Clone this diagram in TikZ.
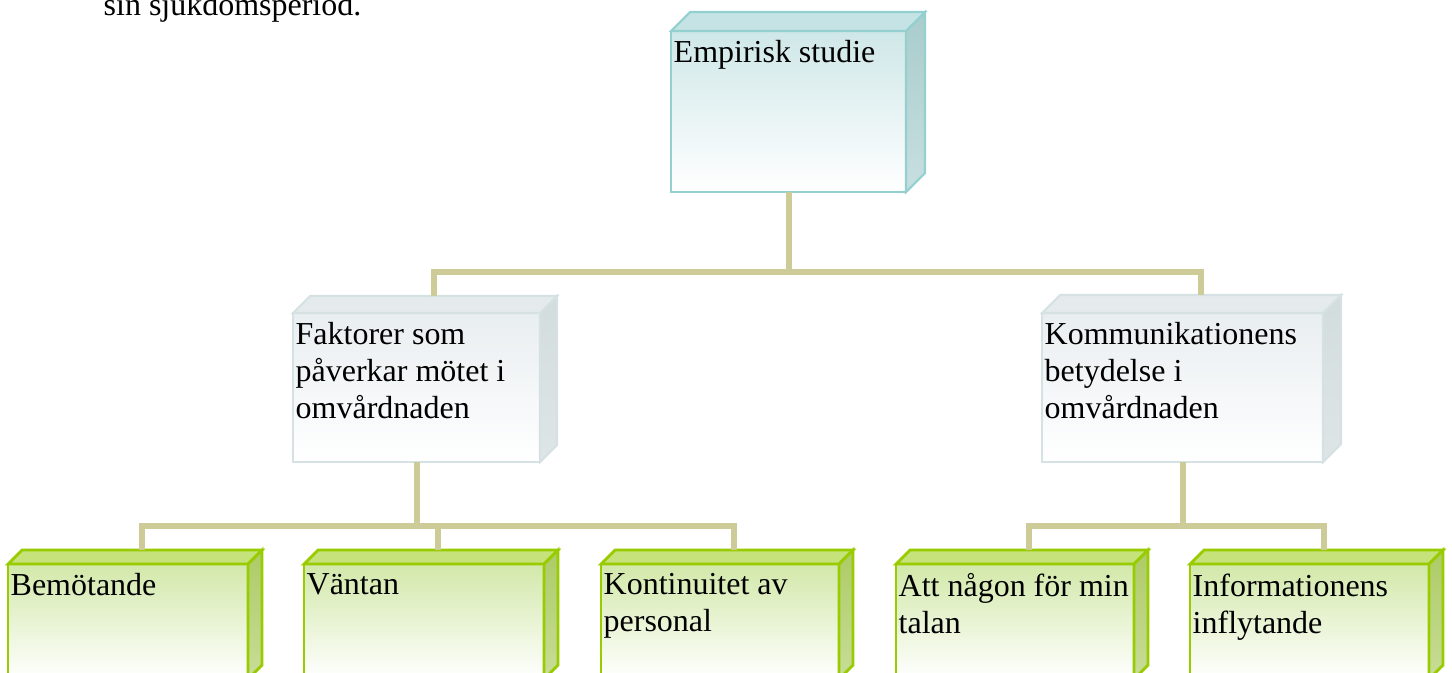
\documentclass[tikz,border=0pt]{standalone}
\usepackage{fontspec}
\setmainfont{Liberation Serif}
\newcommand{\boxfont}{\fontsize{9.1}{10.5}\selectfont}
\definecolor{linkc}{HTML}{CDCB98}
\definecolor{tealedge}{HTML}{94D0D0}
\definecolor{tealfront}{HTML}{CFE7E8}
\definecolor{tealtopf}{HTML}{C5E3E4}
\definecolor{tealside}{HTML}{A9CCCC}
\definecolor{tealsidel}{HTML}{C8DFE0}
\definecolor{grayedge}{HTML}{D5E1E2}
\definecolor{grayfront}{HTML}{E9EEF0}
\definecolor{graytopf}{HTML}{E5EBEC}
\definecolor{grayside}{HTML}{D3DCDD}
\definecolor{graysidel}{HTML}{DEE5E6}
\definecolor{greenedge}{HTML}{99CC00}
\definecolor{greenfront}{HTML}{D2E8A9}
\definecolor{greentopf}{HTML}{C6E27A}
\definecolor{greenside}{HTML}{ADCB66}
\definecolor{greensidel}{HTML}{C8DD98}
\tikzset{
  connector/.style={draw=linkc, line width=0.06cm},
  boxtxt/.style={anchor=north west, inner xsep=0.02cm, inner ysep=0.09cm, align=left, font=\boxfont},
  cubefront/.style={anchor=north west, inner sep=0pt, outer sep=0pt, bottom color=white},
  teal front/.style={cubefront, draw=tealedge, line width=.6pt, top color=tealfront},
  teal top/.style={draw=tealedge, line width=.6pt, fill=tealtopf},
  teal side/.style={draw=tealedge, line width=.6pt, top color=tealside, bottom color=tealsidel},
  gray front/.style={cubefront, draw=grayedge, line width=.6pt, top color=grayfront},
  gray top/.style={draw=grayedge, line width=.6pt, fill=graytopf},
  gray side/.style={draw=grayedge, line width=.6pt, top color=grayside, bottom color=graysidel},
  green front/.style={cubefront, draw=greenedge, line width=.8pt, top color=greenfront},
  green top/.style={draw=greenedge, line width=.8pt, fill=greentopf},
  green side/.style={draw=greenedge, line width=.8pt, top color=greenside, bottom color=greensidel},
}
% top and side faces of a box, plus the point where its connector comes in
\newcommand{\cubefaces}[3]{%
  \path[#3 top] (#1.north west) -- ++(#2,#2) -- ([shift={(#2,#2)}]#1.north east) -- (#1.north east) -- cycle;
  \path[#3 side] (#1.north east) -- ++(#2,#2) -- ([shift={(#2,#2)}]#1.south east) -- (#1.south east) -- cycle;
  \coordinate (#1-top) at ([shift={(#2,#2)}]#1.north);
}
\begin{document}
\begin{tikzpicture}
  \clip (0,0) rectangle (14.52,-6.72);
  \node[anchor=base west, inner sep=0pt, font=\boxfont] (intro) at (1.03,-0.15) {sin sjukdomsperiod.};
  % top level
  \node[teal front, minimum width=2.35cm, minimum height=1.61cm] (emp) at (6.71,-0.31) {};
  \cubefaces{emp}{0.19}{teal}
  \node[boxtxt] (emp-txt) at (emp.north west) {Empirisk studie};
  % themes
  \node[gray front, minimum width=2.47cm, minimum height=1.49cm] (faktor) at (2.93,-3.13) {};
  \cubefaces{faktor}{0.17}{gray}
  \node[boxtxt] (faktor-txt) at (faktor.north west) {Faktorer som\\påverkar mötet i\\omvårdnaden};
  \node[gray front, minimum width=2.81cm, minimum height=1.49cm] (komm) at (10.42,-3.13) {};
  \cubefaces{komm}{0.18}{gray}
  \node[boxtxt] (komm-txt) at (komm.north west) {Kommunikationens\\betydelse i\\omvårdnaden};
  % sub themes
  \node[green front, minimum width=2.40cm, minimum height=1.15cm] (bemot) at (0.08,-5.64) {};
  \cubefaces{bemot}{0.14}{green}
  \node[boxtxt] (bemot-txt) at (bemot.north west) {Bemötande};
  \node[green front, minimum width=2.40cm, minimum height=1.15cm] (vant) at (3.04,-5.64) {};
  \cubefaces{vant}{0.14}{green}
  \node[boxtxt] (vant-txt) at (vant.north west) {Väntan};
  \node[green front, minimum width=2.38cm, minimum height=1.15cm] (kont) at (6.01,-5.64) {};
  \cubefaces{kont}{0.14}{green}
  \node[boxtxt] (kont-txt) at (kont.north west) {Kontinuitet av\\personal};
  \node[green front, minimum width=2.38cm, minimum height=1.15cm] (att) at (8.96,-5.64) {};
  \cubefaces{att}{0.14}{green}
  \node[boxtxt] (att-txt) at (att.north west) {Att någon för min\\talan};
  \node[green front, minimum width=2.39cm, minimum height=1.15cm] (info) at (11.90,-5.64) {};
  \cubefaces{info}{0.14}{green}
  \node[boxtxt] (info-txt) at (info.north west) {Informationens\\inflytande};
  % connectors
  \coordinate (bus1) at (emp.south |- 0,-2.72);
  \coordinate (bus2) at (faktor.south |- 0,-5.26);
  \coordinate (bus3) at (komm.south |- 0,-5.26);
  \draw[connector] (emp.south) -- (bus1);
  \draw[connector] (faktor-top) |- (bus1) -| (komm-top);
  \draw[connector] (faktor.south) -- (bus2);
  \draw[connector] (bemot-top) |- (bus2) -| (kont-top);
  \draw[connector] (vant-top) -- (vant-top |- bus2);
  \draw[connector] (komm.south) -- (bus3);
  \draw[connector] (att-top) |- (bus3) -| (info-top);
\end{tikzpicture}
\end{document}
